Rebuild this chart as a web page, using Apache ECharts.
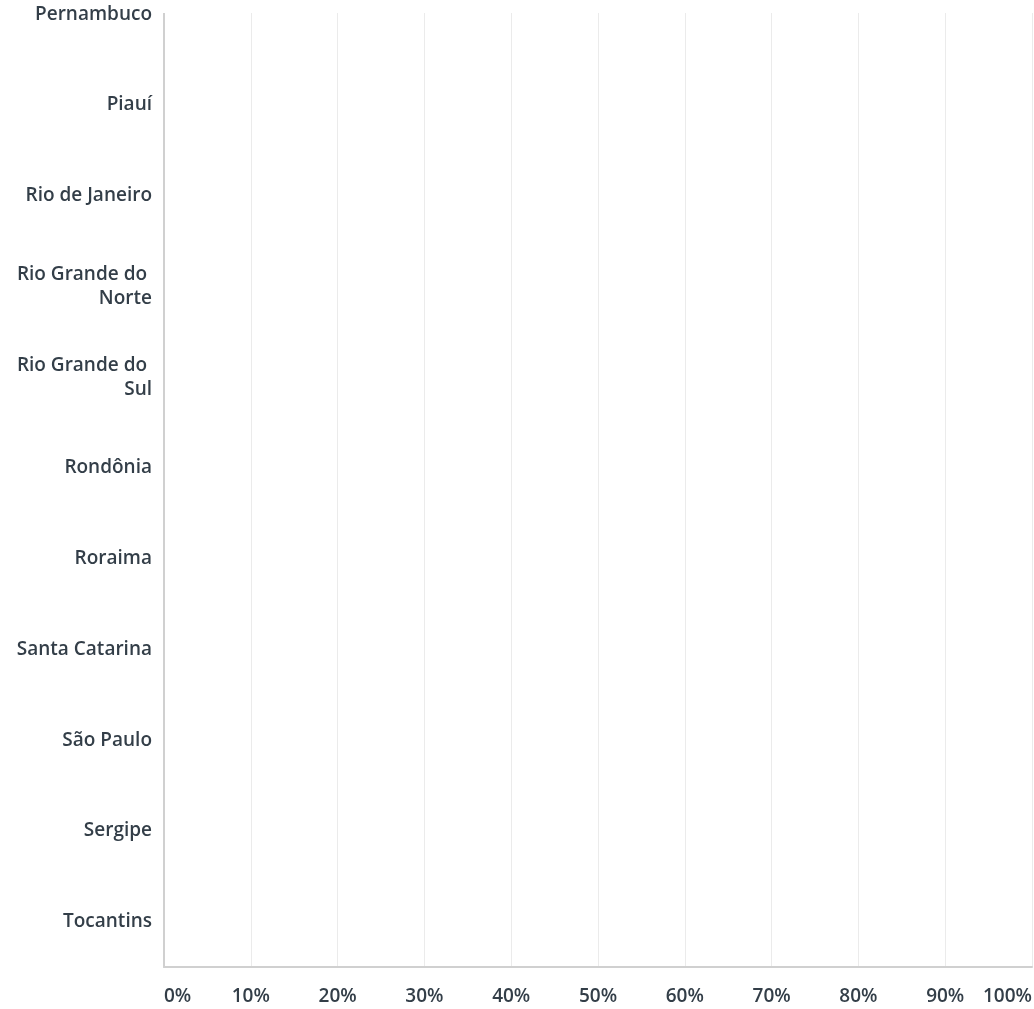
<!DOCTYPE html>
<html>
<head>
<meta charset="utf-8">
<script src="https://cdn.jsdelivr.net/npm/echarts@6/dist/echarts.min.js"></script>
<style>
  html, body { margin: 0; padding: 0; background: #fff; overflow: hidden; }
  /* o gráfico original aparece cortado no topo: desloca o container para cima */
  #chart { width: 1034px; height: 1040px; margin-top: -31px; }
</style>
</head>
<body>
<div id="chart"></div>
<script>
// estados visíveis (lista cortada no topo)
const states = [
  'Pernambuco', 'Piauí', 'Rio de Janeiro', 'Rio Grande do Norte', 'Rio Grande do Sul',
  'Rondônia', 'Roraima', 'Santa Catarina', 'São Paulo', 'Sergipe', 'Tocantins'
]
const percentValues = [0, 0, 0, 0, 0, 0, 0, 0, 0, 0, 0]
const xTicks = [0, 10, 20, 30, 40, 50, 60, 70, 80, 90, 100]

const textColor = '#333e48'
const fontFamily = '"Open Sans", sans-serif'

const chart = echarts.init(document.getElementById('chart'))

chart.setOption({
  animation: false,
  grid: {
    left: 164,
    right: 2,
    top: 0,
    bottom: 42,
    containLabel: false,
    outerBoundsMode: 'none'
  },
  xAxis: {
    type: 'value',
    min: xTicks[0],
    max: xTicks[xTicks.length - 1],
    interval: 10,
    axisLine: { show: true, lineStyle: { color: '#d0d0d0', width: 2 } },
    axisTick: { show: false },
    splitLine: { show: true, lineStyle: { color: '#ebebeb', width: 1 } },
    axisLabel: {
      formatter: '{value}%',
      color: textColor,
      fontFamily,
      fontSize: 19,
      fontWeight: 600,
      margin: 20,
      alignMinLabel: 'left',
      alignMaxLabel: 'right'
    }
  },
  yAxis: {
    type: 'category',
    inverse: true,
    data: states,
    axisLine: { show: true, lineStyle: { color: '#d0d0d0', width: 2 } },
    axisTick: { show: false },
    splitLine: { show: false },
    axisLabel: {
      color: textColor,
      fontFamily,
      fontSize: 19,
      fontWeight: 600,
      margin: 12,
      width: 152,
      overflow: 'break',
      lineHeight: 24,
      align: 'right'
    }
  },
  series: [
    {
      type: 'bar',
      data: percentValues,
      barWidth: '50%',
      itemStyle: { color: '#00bf6f' }
    }
  ],
  // tampa o trecho do eixo acima da área visível do gráfico original
  graphic: [
    {
      type: 'rect',
      z: 100,
      shape: { x: 158, y: 0, width: 876, height: 44 },
      style: { fill: '#fff' }
    }
  ]
})

window.addEventListener('resize', () => chart.resize())
</script>
</body>
</html>
